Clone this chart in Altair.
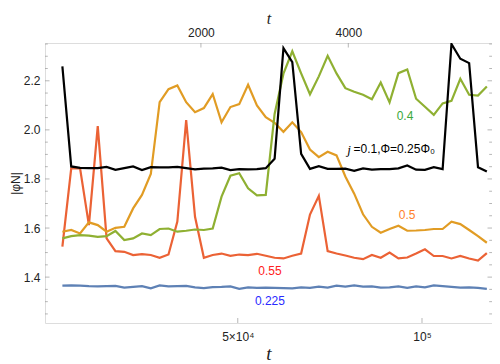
import altair as alt
import pandas as pd

# time grid (bottom-axis units); top axis shows t/20
t = [2400, 4800, 7200, 9600, 12000, 14400, 16800, 19200, 21600, 24000,
     26400, 28800, 31200, 33600, 36000, 38400, 40800, 43200, 45600, 48000,
     50400, 52800, 55200, 57600, 60000, 62400, 64800, 67200, 69600, 72000,
     74400, 76800, 79200, 81600, 84000, 86400, 88800, 91200, 93600, 96000,
     98400, 100800, 103200, 105600, 108000, 110400, 112800, 115200, 117600]

blue_0225 = [1.365, 1.366, 1.365, 1.363, 1.362, 1.363, 1.364, 1.357, 1.360, 1.363,
             1.354, 1.366, 1.362, 1.363, 1.364, 1.358, 1.355, 1.359, 1.360, 1.362,
             1.352, 1.358, 1.356, 1.357, 1.356, 1.355, 1.354, 1.358, 1.356, 1.361,
             1.357, 1.365, 1.361, 1.366, 1.361, 1.362, 1.357, 1.358, 1.362, 1.356,
             1.362, 1.358, 1.366, 1.363, 1.360, 1.357, 1.358, 1.356, 1.352]

red_055 = [1.524, 1.843, 1.843, 1.612, 2.015, 1.558, 1.506, 1.503, 1.490, 1.494,
           1.490, 1.479, 1.492, 1.626, 2.040, 1.646, 1.479, 1.490, 1.496, 1.487,
           1.492, 1.490, 1.495, 1.487, 1.479, 1.476, 1.487, 1.496, 1.655, 1.731,
           1.506, 1.496, 1.488, 1.479, 1.473, 1.490, 1.479, 1.500, 1.476, 1.480,
           1.496, 1.513, 1.486, 1.486, 1.476, 1.486, 1.476, 1.467, 1.498]

orange_05 = [1.585, 1.592, 1.578, 1.623, 1.612, 1.585, 1.601, 1.605, 1.680, 1.735,
             1.820, 2.113, 2.166, 2.181, 2.113, 2.072, 2.089, 2.146, 2.031, 2.093,
             2.105, 2.184, 2.100, 2.052, 2.029, 1.992, 2.031, 1.991, 1.920, 1.889,
             1.911, 1.896, 1.810, 1.740, 1.656, 1.605, 1.581, 1.596, 1.609, 1.589,
             1.590, 1.592, 1.596, 1.596, 1.626, 1.616, 1.592, 1.567, 1.540]

green_04 = [1.558, 1.567, 1.571, 1.569, 1.564, 1.567, 1.588, 1.551, 1.558, 1.578,
            1.571, 1.596, 1.598, 1.585, 1.589, 1.594, 1.592, 1.598, 1.728, 1.813,
            1.823, 1.762, 1.733, 1.735, 2.065, 2.229, 2.320, 2.230, 2.145, 2.218,
            2.302, 2.230, 2.170, 2.155, 2.143, 2.125, 2.193, 2.112, 2.231, 2.246,
            2.127, 2.094, 2.061, 2.108, 2.118, 2.208, 2.143, 2.140, 2.177]

black_j01 = [2.259, 1.851, 1.845, 1.844, 1.844, 1.849, 1.837, 1.844, 1.851, 1.836,
             1.848, 1.847, 1.847, 1.849, 1.844, 1.839, 1.842, 1.843, 1.846, 1.836,
             1.840, 1.839, 1.840, 1.844, 1.882, 2.333, 2.276, 1.902, 1.841, 1.852,
             1.841, 1.841, 1.842, 1.833, 1.843, 1.838, 1.840, 1.840, 1.843, 1.855,
             1.838, 1.837, 1.848, 1.840, 2.350, 2.290, 2.272, 1.848, 1.830]

series_names = ["0.225", "0.55", "0.5", "0.4", "j=0.1"]
series_values = [blue_0225, red_055, orange_05, green_04, black_j01]
series_colors = ["#5E81B5", "#EB6235", "#E19C24", "#8FB032", "#000000"]

# annotations
label_text = ["0.4", "0.5", "0.55", "0.225", "=0.1,Φ=0.25Φ₀"]
label_t = [95400, 95960, 58720, 58720, 81400]
label_v = [2.055, 1.654, 1.424, 1.303, 1.921]
label_color = ["#3aa83a", "#ff7f2a", "#ff2020", "#2a2aff", "#000000"]
label_align = ["center", "center", "center", "center", "left"]

# axis ticks
bottom_ticks = [50000, 100000]
top_ticks = [40000, 80000]
y_major = [1.4, 1.6, 1.8, 2.0, 2.2]
y_minor = [1.25, 1.30, 1.35, 1.45, 1.50, 1.55, 1.65, 1.70, 1.75, 1.85, 1.90,
           1.95, 2.05, 2.10, 2.15, 2.25, 2.30, 2.35]

W, H = 447, 280
xs = alt.Scale(domain=[-2316, 119000], nice=False, zero=False)
ys = alt.Scale(domain=[1.213, 2.354], nice=False, zero=False)
FRAME = "#999999"
LABEL = "#222222"

common_lbl = dict(ticks=False, domain=False, grid=False, labelFontSize=12,
                  labelFont="Liberation Sans", labelColor=LABEL,
                  labelFlush=False, labelOverlap=False)

layers = []
for i, (name, vals, col) in enumerate(zip(series_names, series_values, series_colors)):
    df = pd.DataFrame({"t": t, "v": vals})
    xenc = alt.X("t:Q", scale=xs, axis=None)
    if i == 0:
        yenc = alt.Y("v:Q", scale=ys, axis=alt.Axis(
            orient="left", values=y_major, format=".1f", labelPadding=5,
            title="|φN|", titleFont="Liberation Sans", titleFontSize=12,
            titleFontWeight="normal", titleColor=LABEL, titlePadding=1,
            **common_lbl))
    else:
        yenc = alt.Y("v:Q", scale=ys, axis=None)
    layers.append(
        alt.Chart(df).mark_line(color=col, strokeWidth=2.2, clip=True)
        .encode(x=xenc, y=yenc)
    )

# top axis labels + inward ticks
top_df = pd.DataFrame({"tt": top_ticks})
layers.append(
    alt.Chart(top_df).mark_tick(color=FRAME, thickness=1, size=9, orient="vertical",
                                clip=True).encode(
        x=alt.X("tt:Q", scale=xs, axis=alt.Axis(
            orient="top", values=top_ticks,
            labelExpr="format(datum.value / 20, 'd')", labelPadding=4,
            title="t", titleFont="Liberation Serif", titleFontStyle="italic",
            titleFontWeight="normal", titleFontSize=16, titleColor=LABEL,
            titlePadding=0, **common_lbl)),
        y=alt.value(0))
)

# bottom axis labels + inward ticks
bot_df = pd.DataFrame({"tb": bottom_ticks})
layers.append(
    alt.Chart(bot_df).mark_tick(color=FRAME, thickness=1, size=10, orient="vertical",
                                clip=True).encode(
        x=alt.X("tb:Q", scale=xs, axis=alt.Axis(
            orient="bottom", values=bottom_ticks,
            labelExpr="datum.value == 50000 ? '5×10⁴' : '10⁵'", labelPadding=8,
            title="t", titleFont="Liberation Serif", titleFontStyle="italic",
            titleFontWeight="normal", titleFontSize=19, titleColor=LABEL,
            titlePadding=2, **common_lbl)),
        y=alt.value(H))
)

# left / right ticks
for vals, ln in [(y_major, 9), (y_minor, 5.6)]:
    tdf = pd.DataFrame({"yt": vals})
    for xpos in [0, W]:
        layers.append(
            alt.Chart(tdf).mark_tick(color=FRAME, thickness=1, size=ln,
                                     orient="horizontal", clip=True).encode(
                y=alt.Y("yt:Q", scale=ys, axis=None),
                x=alt.value(xpos))
        )

# text annotations
ann = pd.DataFrame({"t": label_t, "v": label_v, "txt": label_text,
                    "c": label_color, "a": label_align})
for al in ["center", "left"]:
    layers.append(
        alt.Chart(ann).transform_filter(alt.datum.a == al)
        .mark_text(align=al, baseline="middle", fontSize=12, font="Liberation Sans")
        .encode(x=alt.X("t:Q", scale=xs, axis=None),
                y=alt.Y("v:Q", scale=ys, axis=None),
                text="txt:N", color=alt.Color("c:N", scale=None))
    )

# italic j of the black label
jdf = pd.DataFrame({"t": [79700], "v": [1.918], "txt": ["j"]})
layers.append(
    alt.Chart(jdf).mark_text(align="left", baseline="middle", fontSize=13,
                             font="Liberation Serif", fontStyle="italic", color="#000000")
    .encode(x=alt.X("t:Q", scale=xs, axis=None),
            y=alt.Y("v:Q", scale=ys, axis=None), text="txt:N")
)

chart = (
    alt.layer(*layers)
    .resolve_axis(x="independent", y="independent")
    .properties(width=W, height=H, autosize=alt.AutoSizeParams(type="none"),
                padding={"left": 37, "top": 35, "right": 0, "bottom": 41})
    .configure_view(stroke=FRAME, strokeWidth=1)
    .configure_axis(grid=False)
    .configure(background="white")
)

chart.save("out.html", embed_options={"renderer": "svg", "actions": False})
